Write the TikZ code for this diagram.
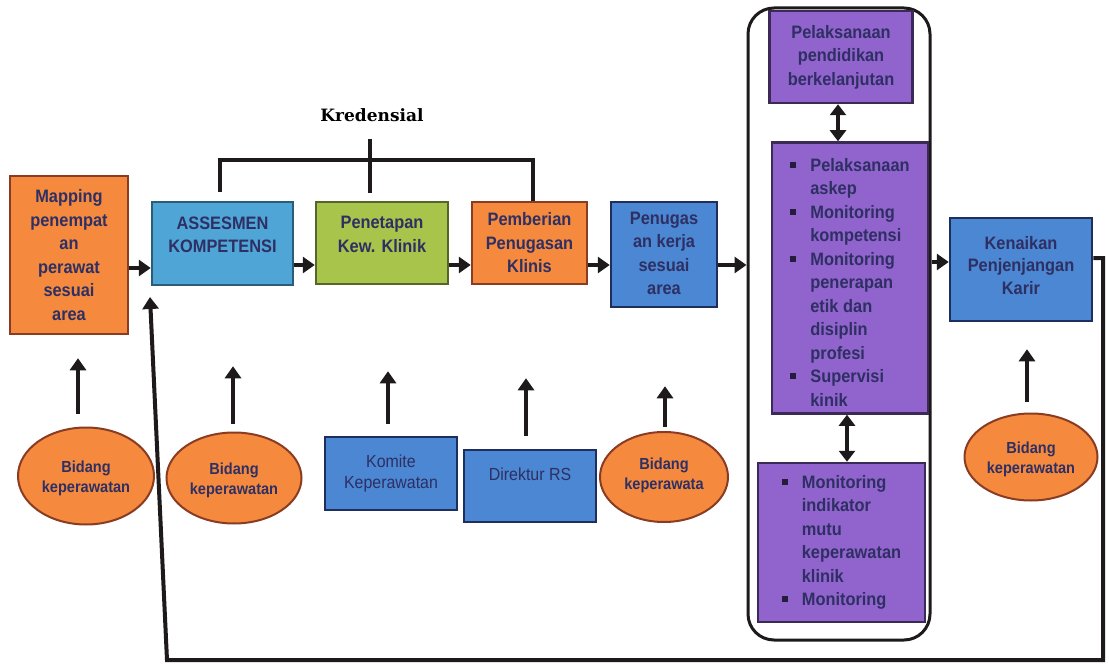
\documentclass[tikz,border=0pt]{standalone}
\usepackage{fontspec}
\setmainfont{Liberation Sans}[FakeStretch=0.91]
\newfontfamily\kredfont{DejaVu Serif}
\usetikzlibrary{arrows.meta,shapes.geometric}
\definecolor{txt}{HTML}{2E2F63}
\definecolor{orf}{HTML}{F58A3E}
\definecolor{ord}{HTML}{8A3C22}
\definecolor{lbf}{HTML}{50A5D7}
\definecolor{lbd}{HTML}{2A5E78}
\definecolor{grf}{HTML}{A8C44A}
\definecolor{grd}{HTML}{56662A}
\definecolor{bbf}{HTML}{4B87D2}
\definecolor{bbd}{HTML}{1E2F5E}
\definecolor{puf}{HTML}{9164CD}
\definecolor{pud}{HTML}{3B2A55}
\definecolor{lnc}{HTML}{1E1A1C}
\definecolor{bul}{HTML}{231C3A}
\newcommand\sqb{\raisebox{3.5pt}{\textcolor{bul}{\rule{6pt}{6pt}}}}
\tikzset{
  bx/.style={rectangle, draw, line width=2.5pt, align=center, inner sep=0pt, text=txt,
    font=\fontsize{18}{23.5}\selectfont\bfseries},
  obox/.style={bx, fill=orf, draw=ord},
  lbox/.style={bx, fill=lbf, draw=lbd},
  gbox/.style={bx, fill=grf, draw=grd},
  bbox/.style={bx, fill=bbf, draw=bbd},
  pbox/.style={bx, fill=puf, draw=pud},
  rbox/.style={bx, fill=bbf, draw=bbd, font=\fontsize{17.5}{21}\selectfont},
  ell/.style={ellipse, draw=ord, line width=2pt, fill=orf, inner sep=0pt, align=center, text=txt,
    font=\fontsize{16}{20}\selectfont\bfseries},
  arr/.style={draw=lnc, line width=4pt, -{Triangle[length=12pt,width=16pt]}},
  darr/.style={draw=lnc, line width=4pt, {Triangle[length=11pt,width=16pt]}-{Triangle[length=11pt,width=16pt]}},
  ln/.style={draw=lnc, line width=4pt},
}
\begin{document}
\begin{tikzpicture}[x=1pt,y=-1pt]
\useasboundingbox[fill=white] (0,0) rectangle (1109,666);

% group frame
\node[draw=lnc, line width=3pt, rounded corners=26pt, minimum width=182pt, minimum height=632pt, inner sep=0pt] (grp) at (839,324) {};

% main boxes
\node[obox, minimum width=118pt, minimum height=158pt] (map) at (69,255) {Mapping\\penempat\\an\\perawat\\sesuai\\area};
\node[lbox, minimum width=141pt, minimum height=83pt] (ases) at (222.5,243.5) {ASSESMEN\\KOMPETENSI\\[-6pt]\mbox{}};
\node[gbox, minimum width=132pt, minimum height=82pt] (pen) at (382,243) {Penetapan\\Kew. Klinik\\[-6pt]\mbox{}};
\node[obox, minimum width=115pt, minimum height=82pt] (pem) at (529.5,243) {Pemberian\\Penugasan\\Klinis};
\node[bbox, minimum width=106pt, minimum height=105pt] (tug) at (664,254.5) {\mbox{}\\[-13.5pt]Penugas\\an kerja\\sesuai\\area};
\node[bbox, minimum width=142pt, minimum height=103pt, font=\fontsize{18}{22.5}\selectfont\bfseries] (ken) at (1021,269.5) {Kenaikan\\Penjenjangan\\Karir\\[-14pt]\mbox{}};

% purple boxes
\node[pbox, minimum width=143pt, minimum height=92pt] (p1) at (841,57) {Pelaksanaan\\pendidikan\\berkelanjutan};
\node[pbox, minimum width=156pt, minimum height=270pt] (p2) at (850,278) {%
\begin{tabular}{@{}l@{\hspace{14pt}}l@{}}
\multicolumn{2}{l}{}\\[-11pt]
\sqb & Pelaksanaan\\ & askep\\
\sqb & Monitoring\\ & kompetensi\\
\sqb & Monitoring\\ & penerapan\\ & etik dan\\ & disiplin\\ & profesi\\
\sqb & Supervisi\\ & kinik
\end{tabular}};
\node[pbox, minimum width=167pt, minimum height=159pt] (p3) at (841.5,542.5) {%
\begin{tabular}{@{}l@{\hspace{14pt}}l@{}}
\sqb & Monitoring\\ & indikator\\ & mutu\\ & keperawatan\\ & klinik\\
\sqb & Monitoring
\end{tabular}};

% lower sources
\node[ell, minimum width=136pt, minimum height=97pt] (e1) at (86,476) {\mbox{}\\[-4pt]Bidang\\keperawatan};
\node[ell, minimum width=135pt, minimum height=91pt] (e2) at (234,478) {\mbox{}\\[-4pt]Bidang\\keperawatan};
\node[rbox, minimum width=132pt, minimum height=73pt] (kom) at (391,473.5) {Komite\\Keperawatan};
\node[rbox, minimum width=132pt, minimum height=72pt] (dir) at (530,486) {Direktur RS\\[3pt]\mbox{}};
\node[ell, minimum width=128pt, minimum height=90pt] (e3) at (664,477) {\mbox{}\\[-12pt]Bidang\\keperawata};
\node[ell, minimum width=133pt, minimum height=87pt] (e4) at (1031,457) {\mbox{}\\[-4pt]Bidang\\keperawatan};

% Kredensial
\node[font=\kredfont\bfseries\fontsize{17}{20}\selectfont] (kred) at (372,115) {Kredensial};

% helper coordinates
\coordinate (r268) at (0,268);
\coordinate (r265) at (0,265);
\coordinate (r262) at (0,262);
\coordinate (x78) at (78,0);
\coordinate (x233) at (233,0);
\coordinate (x388) at (388,0);
\coordinate (x526) at (526,0);
\coordinate (x665) at (665,0);
\coordinate (x1027) at (1027,0);
\coordinate (xd1) at (838,0);
\coordinate (xd2) at (847,0);
\coordinate (k1) at (220,192);
\coordinate (k2) at (533,160);
\coordinate (t1) at (370,139);
\coordinate (t2) at (370,193);
\coordinate (fb1) at (1103,258);
\coordinate (fb2) at (1103,660);
\coordinate (fb3) at (167,660);
\coordinate (fbt) at (150,297);

% flow arrows
\draw[arr] (map.east |- r268) -- (ases.west |- r268);
\draw[arr] (ases.east |- r265) -- (pen.west |- r265);
\draw[arr] (pen.east |- r265) -- (pem.west |- r265);
\draw[arr] (pem.east |- r265) -- (tug.west |- r265);
\draw[arr] (tug.east |- r265) -- (grp.west |- r265);
\draw[arr] (grp.east |- r262) -- (ken.west |- r262);

% double arrows
\draw[darr] (p1.south -| xd1) -- (p2.north -| xd1);
\draw[darr] (p2.south -| xd2) -- (p3.north -| xd2);

% up arrows
\draw[arr, shorten <=13pt, shorten >=23pt] (e1.north -| x78) -- (map.south -| x78);
\draw[arr, shorten <=8pt, shorten >=80pt] (e2.north -| x233) -- (ases.south -| x233);
\draw[arr, shorten <=12pt, shorten >=86pt] (kom.north -| x388) -- (pen.south -| x388);
\draw[arr, shorten <=13pt, shorten >=93pt] (dir.north -| x526) -- (pem.south -| x526);
\draw[arr, shorten <=4pt, shorten >=78pt] (e3.north -| x665) -- (tug.south -| x665);
\draw[arr, shorten <=11pt, shorten >=27pt] (e4.north -| x1027) -- (ken.south -| x1027);

% Kredensial bracket
\draw[ln] (k1) |- (k2) -- (pem.north -| k2);
\draw[ln] (t1) -- (t2);

% feedback loop
\draw[arr] (ken.east |- fb1) -- (fb1) -- (fb2) -- (fb3) -- (fbt);
\end{tikzpicture}
\end{document}
